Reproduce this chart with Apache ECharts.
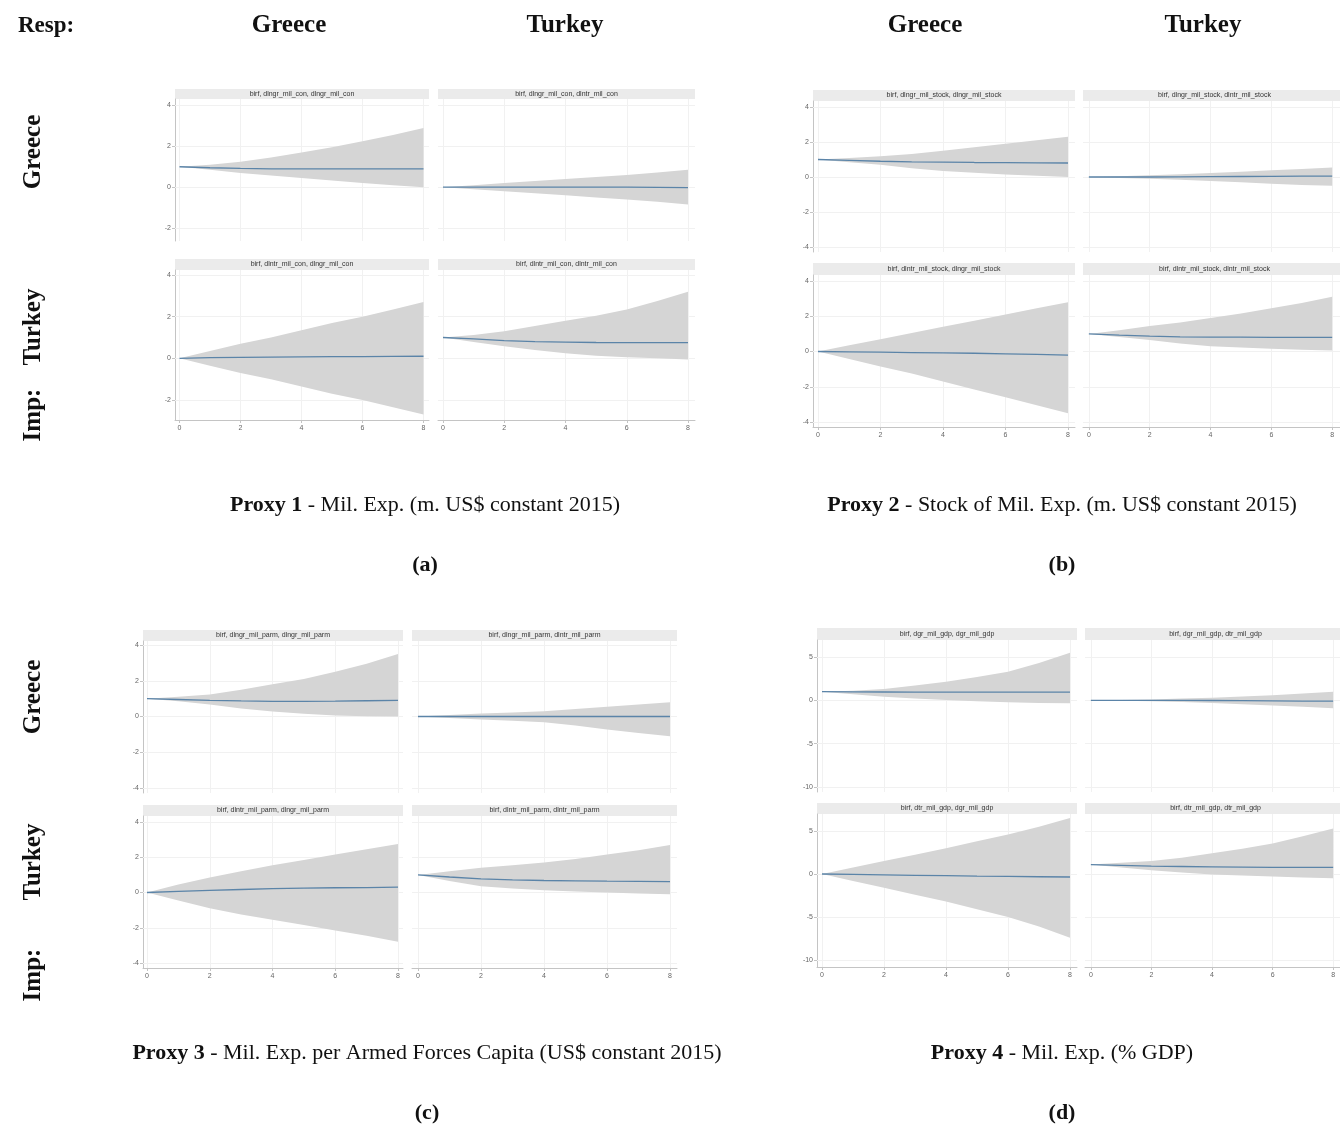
<!DOCTYPE html>
<html><head><meta charset="utf-8">
<script src="https://cdn.jsdelivr.net/npm/echarts@6/dist/echarts.min.js"></script>
<style>html,body{margin:0;padding:0;background:#fff}#c{width:1340px;height:1126px}</style>
</head><body><div id="c"></div>
<script>
// ---------- DATA ----------
const steps = [0, 1, 2, 3, 4, 5, 6, 7, 8];
const xTicks = [0, 2, 4, 6, 8];
const yTicksA = [-2, 0, 2, 4];
const yTicksB = [-4, -2, 0, 2, 4];
const yTicksC = [-4, -2, 0, 2, 4];
const yTicksD = [-10, -5, 0, 5];

const colHeads = ['Greece', 'Turkey'];
const rowHeads = ['Greece', 'Turkey'];

const titlesA = ['birf, dlngr_mil_con, dlngr_mil_con', 'birf, dlngr_mil_con, dlntr_mil_con', 'birf, dlntr_mil_con, dlngr_mil_con', 'birf, dlntr_mil_con, dlntr_mil_con'];
const titlesB = ['birf, dlngr_mil_stock, dlngr_mil_stock', 'birf, dlngr_mil_stock, dlntr_mil_stock', 'birf, dlntr_mil_stock, dlngr_mil_stock', 'birf, dlntr_mil_stock, dlntr_mil_stock'];
const titlesC = ['birf, dlngr_mil_parm, dlngr_mil_parm', 'birf, dlngr_mil_parm, dlntr_mil_parm', 'birf, dlntr_mil_parm, dlngr_mil_parm', 'birf, dlntr_mil_parm, dlntr_mil_parm'];
const titlesD = ['birf, dgr_mil_gdp, dgr_mil_gdp', 'birf, dgr_mil_gdp, dtr_mil_gdp', 'birf, dtr_mil_gdp, dgr_mil_gdp', 'birf, dtr_mil_gdp, dtr_mil_gdp'];

const captionA = ['Proxy 1', ' - Mil. Exp. (m. US$ constant 2015)', '(a)'];
const captionB = ['Proxy 2', ' - Stock of Mil. Exp. (m. US$ constant 2015)', '(b)'];
const captionC = ['Proxy 3', ' - Mil. Exp. per Armed Forces Capita (US$ constant 2015)', '(c)'];
const captionD = ['Proxy 4', ' - Mil. Exp. (% GDP)', '(d)'];

// Proxy 1
const p1_gg_irf = [1.0, 0.95, 0.92, 0.9, 0.9, 0.9, 0.9, 0.9, 0.9];
const p1_gg_hi  = [1.0, 1.1, 1.25, 1.45, 1.7, 1.95, 2.25, 2.55, 2.9];
const p1_gg_lo  = [1.0, 0.85, 0.7, 0.57, 0.45, 0.33, 0.2, 0.1, 0.0];
const p1_gt_irf = [0, 0, 0, 0, 0, 0, 0, -0.01, -0.02];
const p1_gt_hi  = [0, 0.1, 0.2, 0.3, 0.4, 0.5, 0.6, 0.72, 0.85];
const p1_gt_lo  = [0, -0.1, -0.2, -0.3, -0.4, -0.5, -0.6, -0.72, -0.85];
const p1_tg_irf = [0, 0.03, 0.05, 0.06, 0.07, 0.08, 0.08, 0.09, 0.1];
const p1_tg_hi  = [0, 0.35, 0.7, 1.0, 1.35, 1.7, 2.0, 2.35, 2.7];
const p1_tg_lo  = [0, -0.35, -0.7, -1.0, -1.35, -1.7, -2.0, -2.35, -2.7];
const p1_tt_irf = [1.0, 0.93, 0.85, 0.8, 0.78, 0.76, 0.75, 0.75, 0.75];
const p1_tt_hi  = [1.0, 1.12, 1.3, 1.55, 1.8, 2.05, 2.35, 2.75, 3.2];
const p1_tt_lo  = [1.0, 0.78, 0.58, 0.4, 0.25, 0.13, 0.05, 0.0, -0.05];

// Proxy 2
const p2_gg_irf = [1.0, 0.95, 0.9, 0.87, 0.85, 0.83, 0.82, 0.81, 0.8];
const p2_gg_hi  = [1.0, 1.08, 1.18, 1.32, 1.5, 1.7, 1.9, 2.1, 2.3];
const p2_gg_lo  = [1.0, 0.85, 0.7, 0.5, 0.35, 0.25, 0.15, 0.07, 0.0];
const p2_gt_irf = [0, 0, 0, 0.01, 0.02, 0.03, 0.04, 0.05, 0.05];
const p2_gt_hi  = [0, 0.05, 0.1, 0.16, 0.23, 0.3, 0.38, 0.46, 0.55];
const p2_gt_lo  = [0, -0.05, -0.1, -0.16, -0.23, -0.3, -0.38, -0.45, -0.5];
const p2_tg_irf = [0, -0.02, -0.04, -0.06, -0.08, -0.1, -0.13, -0.16, -0.2];
const p2_tg_hi  = [0, 0.35, 0.7, 1.05, 1.4, 1.75, 2.1, 2.45, 2.8];
const p2_tg_lo  = [0, -0.42, -0.85, -1.25, -1.7, -2.15, -2.6, -3.05, -3.5];
const p2_tt_irf = [1.0, 0.93, 0.87, 0.83, 0.82, 0.81, 0.8, 0.8, 0.8];
const p2_tt_hi  = [1.0, 1.2, 1.45, 1.65, 1.9, 2.15, 2.45, 2.75, 3.1];
const p2_tt_lo  = [1.0, 0.82, 0.65, 0.45, 0.3, 0.22, 0.15, 0.1, 0.05];

// Proxy 3
const p3_gg_irf = [1.0, 0.95, 0.9, 0.87, 0.85, 0.85, 0.86, 0.88, 0.9];
const p3_gg_hi  = [1.0, 1.1, 1.23, 1.5, 1.8, 2.1, 2.5, 2.95, 3.5];
const p3_gg_lo  = [1.0, 0.85, 0.67, 0.45, 0.28, 0.15, 0.06, 0.02, 0.0];
const p3_gt_irf = [0, 0, 0, 0, 0, 0, 0, 0, 0];
const p3_gt_hi  = [0, 0.08, 0.17, 0.23, 0.3, 0.42, 0.55, 0.67, 0.8];
const p3_gt_lo  = [0, -0.08, -0.17, -0.24, -0.32, -0.5, -0.73, -0.92, -1.1];
const p3_tg_irf = [0, 0.06, 0.12, 0.17, 0.22, 0.25, 0.27, 0.28, 0.3];
const p3_tg_hi  = [0, 0.45, 0.85, 1.2, 1.55, 1.85, 2.15, 2.45, 2.75];
const p3_tg_lo  = [0, -0.45, -0.9, -1.25, -1.55, -1.85, -2.15, -2.45, -2.8];
const p3_tt_irf = [1.0, 0.88, 0.77, 0.72, 0.68, 0.66, 0.64, 0.63, 0.62];
const p3_tt_hi  = [1.0, 1.2, 1.4, 1.55, 1.7, 1.9, 2.15, 2.4, 2.7];
const p3_tt_lo  = [1.0, 0.65, 0.36, 0.22, 0.13, 0.05, 0.0, -0.05, -0.1];

// Proxy 4
const p4_gg_irf = [1.0, 0.98, 0.96, 0.95, 0.95, 0.95, 0.95, 0.95, 0.95];
const p4_gg_hi  = [1.0, 1.12, 1.3, 1.7, 2.15, 2.7, 3.3, 4.3, 5.5];
const p4_gg_lo  = [1.0, 0.7, 0.42, 0.2, 0.03, -0.1, -0.23, -0.3, -0.35];
const p4_gt_irf = [0, 0, 0, 0, -0.02, -0.04, -0.06, -0.08, -0.1];
const p4_gt_hi  = [0, 0.05, 0.1, 0.2, 0.3, 0.45, 0.6, 0.8, 1.0];
const p4_gt_lo  = [0, -0.05, -0.1, -0.2, -0.3, -0.45, -0.6, -0.75, -0.9];
const p4_tg_irf = [0, -0.05, -0.1, -0.15, -0.2, -0.25, -0.28, -0.32, -0.35];
const p4_tg_hi  = [0, 0.75, 1.5, 2.25, 3.0, 3.8, 4.6, 5.5, 6.5];
const p4_tg_lo  = [0, -0.8, -1.6, -2.4, -3.2, -4.1, -5.0, -6.1, -7.4];
const p4_tt_irf = [1.1, 1.0, 0.92, 0.87, 0.83, 0.8, 0.78, 0.77, 0.77];
const p4_tt_hi  = [1.1, 1.3, 1.5, 1.9, 2.4, 2.95, 3.55, 4.4, 5.3];
const p4_tt_lo  = [1.1, 0.75, 0.45, 0.18, -0.05, -0.18, -0.3, -0.4, -0.5];

// ---------- LAYOUT ----------
const panels = [
  { titles: titlesA, yTicks: yTicksA, caption: captionA, cx: 425, capY: 505, labY: 565,
    cols: [{bl: 175, br: 429, x0: 179.5, x8: 423.5}, {bl: 438, br: 695, x0: 443, x8: 688}],
    rows: [{st: 89, bt: 99, bb: 241, yA: 105.5, vA: 4, yB: 228, vB: -2},
           {st: 259, bt: 270, bb: 420, yA: 275, vA: 4, yB: 400, vB: -2}],
    data: [[p1_gg_irf, p1_gg_lo, p1_gg_hi], [p1_gt_irf, p1_gt_lo, p1_gt_hi], [p1_tg_irf, p1_tg_lo, p1_tg_hi], [p1_tt_irf, p1_tt_lo, p1_tt_hi]] },
  { titles: titlesB, yTicks: yTicksB, caption: captionB, cx: 1062, capY: 505, labY: 565,
    cols: [{bl: 813, br: 1075, x0: 818, x8: 1068}, {bl: 1083, br: 1346, x0: 1089, x8: 1338}],
    rows: [{st: 90, bt: 101, bb: 252, yA: 107, vA: 4, yB: 247, vB: -4},
           {st: 263, bt: 275, bb: 427, yA: 281, vA: 4, yB: 422, vB: -4}],
    data: [[p2_gg_irf, p2_gg_lo, p2_gg_hi], [p2_gt_irf, p2_gt_lo, p2_gt_hi], [p2_tg_irf, p2_tg_lo, p2_tg_hi], [p2_tt_irf, p2_tt_lo, p2_tt_hi]] },
  { titles: titlesC, yTicks: yTicksC, caption: captionC, cx: 427, capY: 1053, labY: 1113,
    cols: [{bl: 143, br: 403, x0: 147, x8: 398}, {bl: 412, br: 677, x0: 418, x8: 670}],
    rows: [{st: 630, bt: 641, bb: 793, yA: 645, vA: 4, yB: 788, vB: -4},
           {st: 805, bt: 816, bb: 968, yA: 822, vA: 4, yB: 963, vB: -4}],
    data: [[p3_gg_irf, p3_gg_lo, p3_gg_hi], [p3_gt_irf, p3_gt_lo, p3_gt_hi], [p3_tg_irf, p3_tg_lo, p3_tg_hi], [p3_tt_irf, p3_tt_lo, p3_tt_hi]] },
  { titles: titlesD, yTicks: yTicksD, caption: captionD, cx: 1062, capY: 1053, labY: 1113,
    cols: [{bl: 817, br: 1077, x0: 822, x8: 1070}, {bl: 1085, br: 1346, x0: 1091, x8: 1339}],
    rows: [{st: 628, bt: 640, bb: 792, yA: 657, vA: 5, yB: 787, vB: -10},
           {st: 803, bt: 814, bb: 967, yA: 831, vA: 5, yB: 960, vB: -10}],
    data: [[p4_gg_irf, p4_gg_lo, p4_gg_hi], [p4_gt_irf, p4_gt_lo, p4_gt_hi], [p4_tg_irf, p4_tg_lo, p4_tg_hi], [p4_tt_irf, p4_tt_lo, p4_tt_hi]] }
];

const BAND = '#d5d5d5', LINE = '#5b84a8', AXIS = '#c4c4c4', GRIDC = '#f1f1f1', STRIP = '#ebebeb';
const SERIF = '"Liberation Serif", "DejaVu Serif", serif';

const grid = [], xAxis = [], yAxis = [], series = [], graphic = [];
let gi = 0;
panels.forEach(p => {
  p.rows.forEach((r, ri) => {
    p.cols.forEach((c, ci) => {
      const k = ri * 2 + ci;
      const xu = (c.x8 - c.x0) / 8;
      const yu = (r.yB - r.yA) / (r.vA - r.vB);
      grid.push({ left: c.bl, top: r.bt, width: c.br - c.bl, height: r.bb - r.bt, containLabel: false });
      const bottomRow = ri === 1, leftCol = ci === 0;
      xAxis.push({
        type: 'value', gridIndex: gi,
        min: (c.bl - c.x0) / xu, max: (c.br - c.x0) / xu,
        axisLine: { show: bottomRow, onZero: false, lineStyle: { color: AXIS, width: 1 } },
        axisTick: { show: bottomRow, customValues: xTicks, length: 3, lineStyle: { color: AXIS } },
        axisLabel: { show: bottomRow, customValues: xTicks, fontSize: 7, color: '#666', margin: 5, fontFamily: 'Liberation Sans' },
        splitLine: { show: false }
      });
      yAxis.push({
        type: 'value', gridIndex: gi,
        max: r.vA + (r.yA - r.bt) / yu, min: r.vB - (r.bb - r.yB) / yu,
        axisLine: { show: leftCol, onZero: false, lineStyle: { color: AXIS, width: 1 } },
        axisTick: { show: leftCol, customValues: p.yTicks, length: 3, lineStyle: { color: AXIS } },
        axisLabel: { show: leftCol, customValues: p.yTicks, fontSize: 7, color: '#666', margin: 4, fontFamily: 'Liberation Sans' },
        splitLine: { show: false }
      });
      const [irf, lo, hi] = p.data[k];
      // confidence band as a polygon through the axis scales
      series.push({
        type: 'custom', xAxisIndex: gi, yAxisIndex: gi, silent: true, z: 2,
        data: steps.map((s, i) => [s, lo[i], hi[i]]),
        encode: { x: 0, y: [1, 2] },
        renderItem: (params, api) => {
          if (params.dataIndex !== 0) return null;
          const pts = [];
          for (let i = 0; i < steps.length; i++) pts.push(api.coord([steps[i], hi[i]]));
          for (let i = steps.length - 1; i >= 0; i--) pts.push(api.coord([steps[i], lo[i]]));
          return { type: 'polygon', shape: { points: pts }, style: { fill: BAND } };
        }
      });
      series.push({
        type: 'line', xAxisIndex: gi, yAxisIndex: gi,
        data: steps.map((s, i) => [s, irf[i]]), symbol: 'none', silent: true,
        lineStyle: { color: LINE, width: 1.3 }, z: 3,
        markLine: {
          silent: true, symbol: 'none', label: { show: false }, z: 1,
          lineStyle: { color: GRIDC, type: 'solid', width: 1 },
          data: xTicks.map(v => ({ xAxis: v })).concat(p.yTicks.map(v => ({ yAxis: v })))
        }
      });
      // strip with title
      graphic.push({ type: 'rect', shape: { x: c.bl, y: r.st, width: c.br - c.bl, height: r.bt - r.st }, style: { fill: STRIP }, silent: true });
      graphic.push({ type: 'text', x: (c.bl + c.br) / 2, y: (r.st + r.bt) / 2, silent: true,
        style: { text: p.titles[k], fill: '#333', font: '7px "Liberation Sans", Arial, sans-serif', textAlign: 'center', textVerticalAlign: 'middle' } });
      gi++;
    });
  });
  // captions
  graphic.push({ type: 'text', x: p.cx, y: p.capY, silent: true,
    style: { text: '{b|' + p.caption[0] + '}{n|' + p.caption[1] + '}', textAlign: 'center', textVerticalAlign: 'middle',
      rich: { b: { fontFamily: SERIF, fontWeight: 'bold', fontSize: 22, fill: '#111' }, n: { fontFamily: SERIF, fontSize: 22, fill: '#111' } } } });
  graphic.push({ type: 'text', x: p.cx, y: p.labY, silent: true,
    style: { text: p.caption[2], fill: '#111', font: 'bold 22px ' + SERIF, textAlign: 'center', textVerticalAlign: 'middle' } });
});

// headers
const headFont = 'bold 25px ' + SERIF;
graphic.push({ type: 'text', x: 18, y: 26, silent: true, style: { text: 'Resp:', fill: '#111', font: 'bold 23px ' + SERIF, textAlign: 'left', textVerticalAlign: 'middle' } });
[289, 565, 925, 1203].forEach((x, i) => {
  graphic.push({ type: 'text', x: x, y: 26, silent: true, style: { text: colHeads[i % 2], fill: '#111', font: headFont, textAlign: 'center', textVerticalAlign: 'middle' } });
});
[[152, 327, 415], [697, 862, 975]].forEach(ys => {
  [rowHeads[0], rowHeads[1], 'Imp:'].forEach((t, i) => {
    graphic.push({ type: 'text', x: 34, y: ys[i], rotation: Math.PI / 2, silent: true,
      style: { text: t, fill: '#111', font: headFont, textAlign: 'center', textVerticalAlign: 'middle' } });
  });
});

const chart = echarts.init(document.getElementById('c'), null, { renderer: 'canvas' });
chart.setOption({ animation: false, backgroundColor: '#fff', grid, xAxis, yAxis, series, graphic });
</script>
</body></html>
